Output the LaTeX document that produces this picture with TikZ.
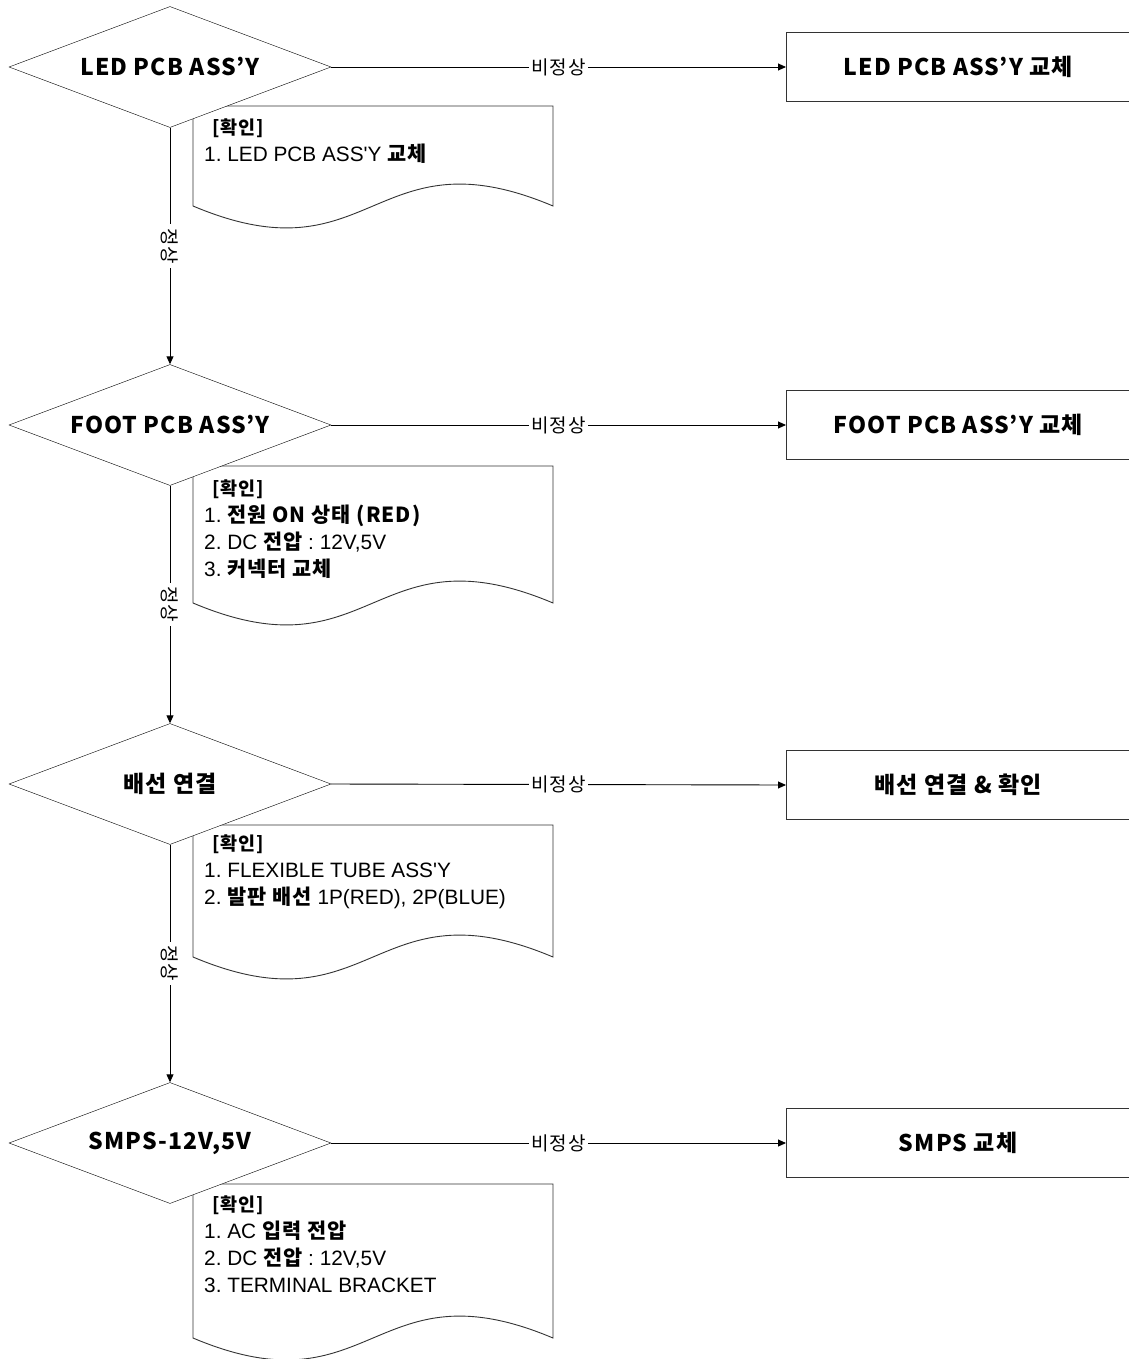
\documentclass[tikz,border=0pt]{standalone}
\usepackage{fontspec}
\setmainfont{Liberation Sans}
\newfontfamily\krfont{Noto Sans CJK KR}
\newfontfamily\krhead{Noto Sans CJK KR}[LetterSpace=5]
\usetikzlibrary{shapes.geometric,arrows.meta,positioning}

\newcommand{\kb}[1]{{\krhead\bfseries #1}}
\frenchspacing

\begin{document}
\begin{tikzpicture}[x=1pt,y=-1pt,
    decision/.style={diamond, draw, fill=white, aspect=2.68, minimum width=322pt,
      minimum height=121pt, inner sep=0pt, font=\krhead\bfseries\fontsize{23}{26}\selectfont},
    action/.style={rectangle, draw=black!80, anchor=west, minimum width=344pt,
      minimum height=69pt, inner sep=0pt, font=\krhead\bfseries\fontsize{23}{26}\selectfont},
    doc/.style={draw=black!80, line width=0.9pt},
    check/.style={anchor=north west, align=left, inner sep=0pt, font=\fontsize{20.8}{27}\selectfont},
    flow/.style={line width=0.9pt, -{Triangle[length=8pt,width=7pt]}},
    fail/.style={fill=white, inner sep=2pt, font=\krhead\fontsize{19}{19}\selectfont},
    pass/.style={fill=white, inner sep=4pt, rotate=-90, font=\krhead\fontsize{19}{19}\selectfont}]
    \useasboundingbox (0,0) rectangle (1128,1359);

    % Check notes, drawn first so the diamonds cover their corners
    \draw[doc] (193,106) -- (553,106) -- (553,206) .. controls (373,130) and (373,282) .. (193,206) -- cycle;
    \draw[doc] (193,466) -- (553,466) -- (553,603) .. controls (373,527) and (373,679) .. (193,603) -- cycle;
    \draw[doc] (193,825) -- (553,825) -- (553,957) .. controls (373,881) and (373,1033) .. (193,957) -- cycle;
    \draw[doc] (193,1184) -- (553,1184) -- (553,1338) .. controls (373,1262) and (373,1414) .. (193,1338) -- cycle;

    \node[check] (c1) at (204,119) {\hspace*{8pt}\kb{\fontsize{18.5}{27}\selectfont[확인]}\\
      1. LED PCB ASS\textquotesingle Y \kb{교체}};
    \node[check] (c2) at (204,480) {\hspace*{8pt}\kb{\fontsize{18.5}{27}\selectfont[확인]}\\
      1. \kb{전원 ON 상태 (RED)}\\
      2. DC \kb{전압} : 12V,5V\\
      3. \kb{커넥터 교체}};
    \node[check] (c3) at (204,835) {\hspace*{8pt}\kb{\fontsize{18.5}{27}\selectfont[확인]}\\
      1. FLEXIBLE TUBE ASS\textquotesingle Y\\
      2. \kb{발판 배선} 1P(RED), 2P(BLUE)};
    \node[check] (c4) at (204,1196) {\hspace*{8pt}\kb{\fontsize{18.5}{27}\selectfont[확인]}\\
      1. AC \kb{입력 전압}\\
      2. DC \kb{전압} : 12V,5V\\
      3. TERMINAL BRACKET};

    % Decisions
    \node[decision] (d1) at (170,67) {LED PCB ASS’Y};
    \node[decision] (d2) at (170,425) {FOOT PCB ASS’Y};
    \node[decision] (d3) at (170,784) {배선 연결};
    \node[decision] (d4) at (170,1143) {SMPS-12V,5V};

    % Replacement boxes
    \node[action] (b1) at (786,67) {LED PCB ASS’Y 교체};
    \node[action] (b2) at (786,425) {FOOT PCB ASS’Y 교체};
    \node[action] (b3) at (786,785) {배선 연결 \& 확인};
    \node[action] (b4) at (786,1143) {SMPS 교체};

    % Abnormal branches
    \draw[flow] (d1.east) -- node[fail] {비정상} (b1.west);
    \draw[flow] (d2.east) -- node[fail] {비정상} (b2.west);
    \draw[flow] (d3.east) -- node[fail] {비정상} (b3.west);
    \draw[flow] (d4.east) -- node[fail] {비정상} (b4.west);

    % Normal branches
    \draw[flow] (d1.south) -- node[pass] {정상} (d2.north);
    \draw[flow] (d2.south) -- node[pass] {정상} (d3.north);
    \draw[flow] (d3.south) -- node[pass] {정상} (d4.north);
\end{tikzpicture}
\end{document}
